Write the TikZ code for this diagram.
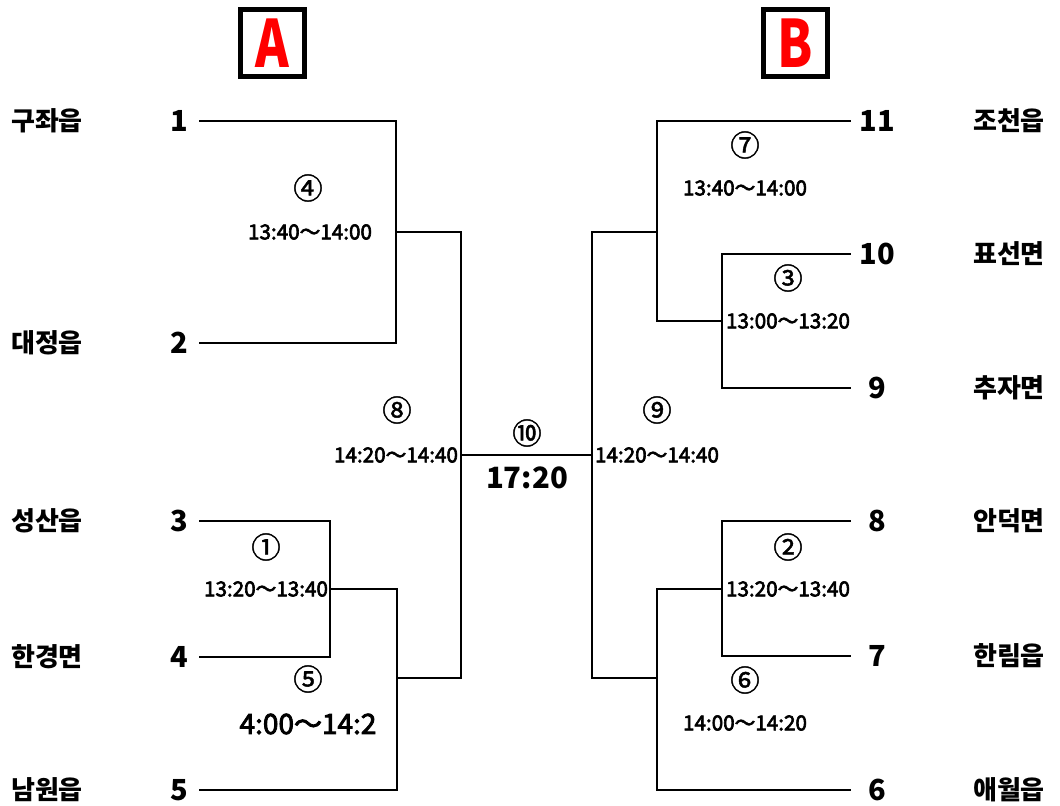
\documentclass[tikz,border=0pt]{standalone}
\usepackage{fontspec}
\setmainfont{Noto Sans CJK KR}
\newfontfamily\kr{Noto Sans CJK KR}
\newfontfamily\krmed[FakeBold=3]{Noto Sans CJK KR}
\newfontfamily\krlight[FakeBold=1.5]{Noto Sans CJK KR}
\begin{document}
\begin{tikzpicture}[x=0.75pt,y=-0.75pt,
  br/.style={line width=1.5pt,line cap=rect},
  teamname/.style={font=\kr\bfseries\fontsize{19.5}{20}\selectfont,inner sep=0pt},
  seednum/.style={font=\kr\bfseries\fontsize{21.75}{22}\selectfont,inner sep=0pt},
  tlab/.style={font=\krmed\fontsize{15.5}{16}\selectfont,inner sep=0pt},
  circlab/.style={font=\krlight\fontsize{22}{23}\selectfont,inner sep=0pt},
  grp/.style={draw,line width=3.75pt,minimum width=48pt,minimum height=50pt,inner sep=0pt,
    font=\kr\bfseries\fontsize{49}{50}\selectfont,text=red}]
\useasboundingbox (0,0) rectangle (1060,806);
% group boxes
\node[grp] (A) at (272,43) {\scalebox{0.78}[1]{A}};
\node[grp] (B) at (795,43) {\scalebox{0.78}[1]{B}};
% left names and seeds
\node[teamname] (n1) at (47,121) {구좌읍};
\node[teamname] (n2) at (47,343) {대정읍};
\node[teamname] (n3) at (47,521) {성산읍};
\node[teamname] (n4) at (47,657) {한경면};
\node[teamname] (n5) at (47,790) {남원읍};
\node[seednum] (d1) at (179,121) {1};
\node[seednum] (d2) at (179,343) {2};
\node[seednum] (d3) at (179,521) {3};
\node[seednum] (d4) at (179,657) {4};
\node[seednum] (d5) at (179,790) {5};
% right names and seeds
\node[teamname] (n11) at (1009,121) {조천읍};
\node[teamname] (n10) at (1009,254) {표선면};
\node[teamname] (n9) at (1009,388) {추자면};
\node[teamname] (n8) at (1009,521) {안덕면};
\node[teamname] (n7) at (1009,656) {한림읍};
\node[teamname] (n6) at (1009,790) {애월읍};
\node[seednum] (d11) at (877,121) {11};
\node[seednum] (d10) at (877,254) {10};
\node[seednum] (d9) at (877,388) {9};
\node[seednum] (d8) at (877,521) {8};
\node[seednum] (d7) at (877,656) {7};
\node[seednum] (d6) at (877,790) {6};
% line ends
\coordinate (s1) at (200,121);
\coordinate (s2) at (200,343);
\coordinate (s3) at (200,521);
\coordinate (s4) at (200,657);
\coordinate (s5) at (200,790);
\coordinate (t11) at (850,121);
\coordinate (t10) at (850,254);
\coordinate (t9) at (850,388);
\coordinate (t8) at (850,521);
\coordinate (t7) at (850,656);
\coordinate (t6) at (850,790);
% junctions
\coordinate (j4) at (396,232);
\coordinate (j1) at (330,589);
\coordinate (j5) at (397,678);
\coordinate (j8) at (461,455);
\coordinate (j3) at (722,321);
\coordinate (j7) at (657,232);
\coordinate (j2) at (722,589);
\coordinate (j6) at (657,678);
\coordinate (j9) at (592,455);
% bracket
\draw[br] (s1) -| (j4) |- (s2);
\draw[br] (s3) -| (j1) |- (s4);
\draw[br] (j1) -| (j5) |- (s5);
\draw[br] (j4) -| (j8) |- (j5);
\draw[br] (j8) -- (j9);
\draw[br] (t10) -| (j3) |- (t9);
\draw[br] (t11) -| (j7) |- (j3);
\draw[br] (t8) -| (j2) |- (t7);
\draw[br] (j2) -| (j6) |- (t6);
\draw[br] (j7) -| (j9) |- (j6);
% match labels
\node[circlab] (c4) at (308,188) {④};
\node[tlab] (m4) at (310,232) {13:40\char"FF5E 14:00};
\node[circlab] (c8) at (397,410) {⑧};
\node[tlab] (m8) at (396,455) {14:20\char"FF5E 14:40};
\node[circlab] (c1) at (266,547) {①};
\node[tlab] (m1) at (266,589) {13:20\char"FF5E 13:40};
\node[circlab] (c5) at (308,679) {⑤};
\node[font=\krmed\fontsize{21}{22}\selectfont,inner sep=0pt] (m5) at (308,724) {4:00\char"FF5E 14:2};
\node[circlab] (c10) at (527,433) {⑩};
\node[font=\kr\bfseries\fontsize{22}{23}\selectfont,inner sep=0pt] (m10) at (527,478) {17:20};
\node[circlab] (c9) at (657,410) {⑨};
\node[tlab] (m9) at (657,455) {14:20\char"FF5E 14:40};
\node[circlab] (c7) at (745,145) {⑦};
\node[tlab] (m7) at (745,188) {13:40\char"FF5E 14:00};
\node[circlab] (c3) at (788,278) {③};
\node[tlab] (m3) at (788,321) {13:00\char"FF5E 13:20};
\node[circlab] (c2) at (788,547) {②};
\node[tlab] (m2) at (788,589) {13:20\char"FF5E 13:40};
\node[circlab] (c6) at (745,680) {⑥};
\node[tlab] (m6) at (745,723) {14:00\char"FF5E 14:20};
\end{tikzpicture}
\end{document}
